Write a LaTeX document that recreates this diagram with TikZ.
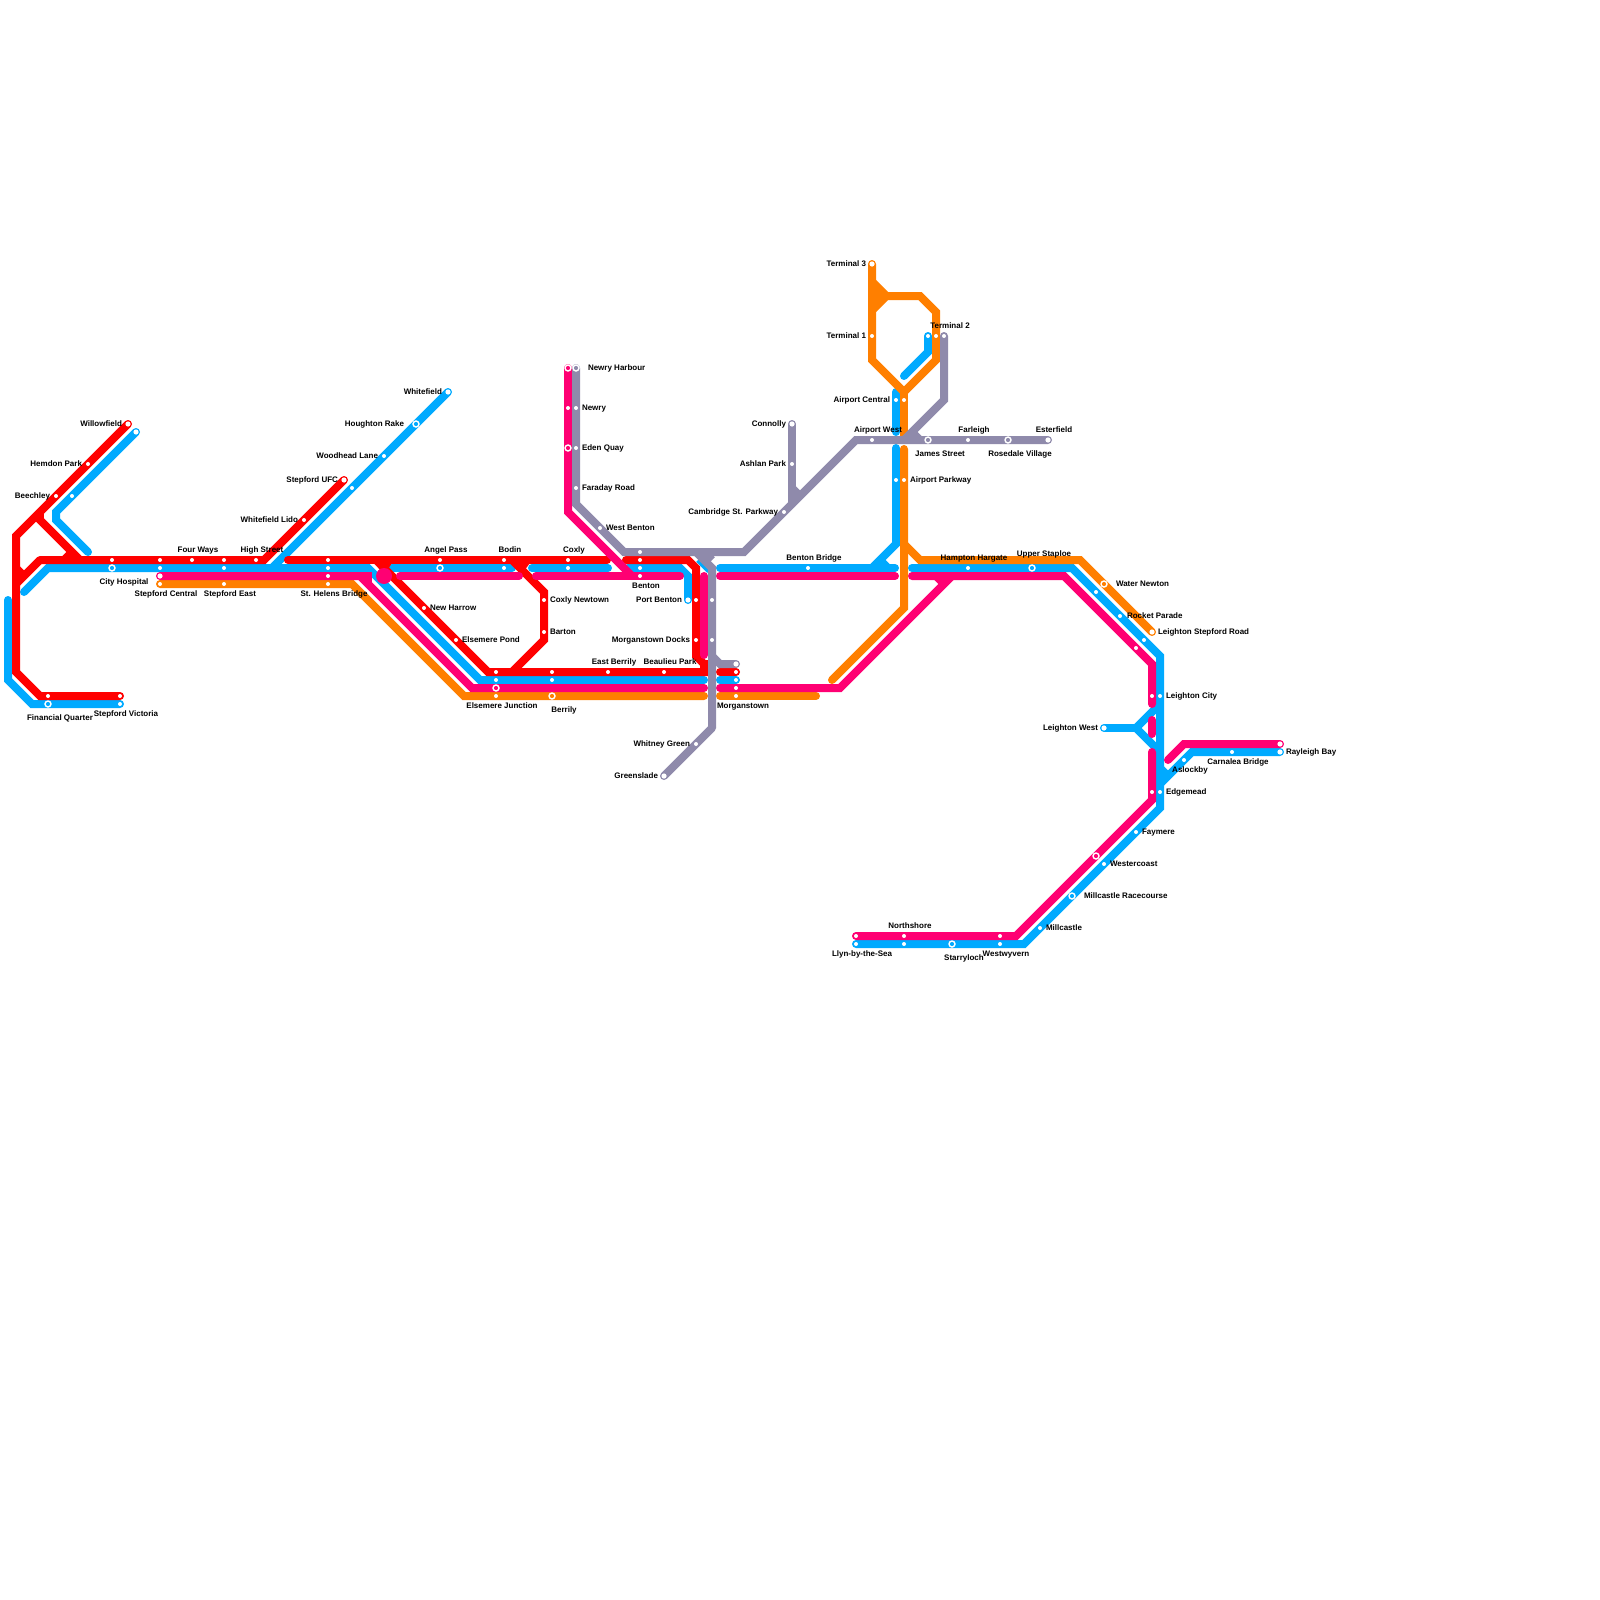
\documentclass[tikz,border=0pt]{standalone}
\usepackage{fontspec}
\setmainfont{Liberation Sans}
\definecolor{lred}{HTML}{FF0000}
\definecolor{lblue}{HTML}{00AAFF}
\definecolor{lmag}{HTML}{FF0073}
\definecolor{lorange}{HTML}{FF7F00}
\definecolor{lgrey}{HTML}{8F8AAB}
\tikzset{
  ln/.style={line width=8pt,line cap=round,line join=miter,miter limit=10},
  stub/.style={line width=8pt,line cap=butt},
  lab/.style={inner sep=0pt,outer sep=0pt,text=black,yshift=-1pt,font=\fontsize{8}{8}\selectfont\bfseries,text height=6pt,text depth=1.7pt},
  dotst/.style={fill=white},
  ringst/.style={draw=white,line width=1.4pt},
}
\newcount\lcnt
\newcommand{\lbl}[4]{\global\advance\lcnt by 1 \node[lab,anchor=#1] (L\the\lcnt) at (#2,#3) {#4};}
\begin{document}
\begin{tikzpicture}[x=1pt,y=-1pt]
\useasboundingbox (0,0) rectangle (1600,1600);
% ---------- orange lower
\draw[ln,lorange] (160,584)--(352,584)--(464,696)--(704,696);
\draw[ln,lorange] (720,696)--(816,696);
% ---------- blue
\draw[ln,lblue] (120,704)--(32,704)--(8,680)--(8,600);
\draw[ln,lblue] (136,432)--(56,512)--(56,520)--(88,552);
\draw[ln,lblue] (24,592)--(48,568)--(368,568)--(480,680)--(704,680);
\draw[ln,lblue] (448,392)--(272,568);
\draw[ln,lblue] (392,568)--(512,568);
\draw[ln,lblue] (532,568)--(608,568);
\draw[ln,lblue] (628,568)--(680,568)--(688,576)--(688,600);
\draw[stub,lblue] (699,559)--(710,570);
\draw[ln,lblue] (720,568)--(895,568);
\draw[ln,lblue] (896,448)--(896,544)--(872,568);
\draw[stub,lblue] (880,560)--(888,568);
\draw[ln,lblue] (896,392)--(896,432);
\draw[ln,lblue] (928,336)--(928,352)--(904,376);
\draw[ln,lblue] (912,568)--(1072,568)--(1160,656)--(1160,808)--(1024,944)--(856,944);
\draw[ln,lblue] (720,680)--(736,680);
\draw[ln,lblue] (1104,728)--(1136,728);
\draw[stub,lblue] (1160,704)--(1136,728)--(1160,752);
\draw[ln,lblue] (1160,784)--(1192,752)--(1280,752);
\draw[stub,lblue] (1160,768)--(1168,776);
% ---------- red
\draw[ln,lred] (128,424)--(16,536)--(16,672)--(40,696)--(120,696);
\draw[stub,lred] (36,516)--(80,560);
\draw[stub,lred] (40,512)--(40,520);
\draw[stub,lred] (64,560)--(72,552);
\draw[stub,lred] (16,568)--(24,576);
\draw[stub,lred] (16,584)--(40,560);
\draw[ln,lred] (40,560)--(264,560)--(344,480);
\draw[ln,lred] (288,560)--(607,560);
\draw[ln,lred] (626,560)--(688,560)--(696,568)--(696,656)--(704,664)--(704,672)--(488,672)--(376,560);
\fill[lred] (700,660) rectangle (708,668);
\fill[lred] (372,560)--(394,560)--(384,575)--cycle;
\draw[ln,lred,line cap=butt] (512,560)--(544,592)--(544,640)--(512,672);
\fill[lred] (512,558)--(530,563)--(524,571)--cycle;
\fill[lred] (505,672)--(520,672)--(518,664)--cycle;
\draw[ln,lred] (720,672)--(736,672);
% ---------- magenta
\draw[ln,lmag] (160,576)--(360,576)--(472,688)--(704,688);
\fill[lmag] (360,572)--(372,572)--(372,582)--(360,582)--cycle;
\draw[ln,lmag] (400,576)--(519,576);
\draw[ln,lmag] (536,576)--(680,576);
\draw[ln,lmag] (568,368)--(568,512)--(632,576);
\draw[ln,lmag] (704,576)--(704,655);
\draw[ln,lmag] (720,576)--(895,576);
\draw[ln,lmag] (912,576)--(1064,576)--(1152,664)--(1152,704);
\draw[ln,lmag] (1152,720)--(1152,734);
\draw[ln,lmag] (1152,752)--(1152,800)--(1016,936)--(856,936);
\draw[ln,lmag] (720,688)--(840,688)--(952,576);
\draw[stub,lmag] (936,576)--(944,584);
\draw[ln,lmag] (1280,744)--(1184,744)--(1168,760);
\fill[lmag] (384,576) circle[radius=8pt];
% ---------- orange upper
\draw[ln,lorange] (832,680)--(904,608)--(904,449);
\draw[ln,lorange] (904,544)--(920,560)--(1080,560)--(1152,632);
\draw[ln,lorange] (872,264)--(872,360)--(904,392)--(936,360)--(936,312)--(920,296)--(888,296);
\draw[ln,lorange,line cap=butt] (904,392)--(904,436);
\fill[lorange] (872,276)--(892,296)--(872,316)--cycle;
% ---------- grey
\draw[ln,lgrey] (576,368)--(576,504)--(624,552)--(744,552)--(856,440)--(1048,440);
\draw[ln,lgrey,line cap=butt] (696,552)--(712,568)--(712,728);
\draw[ln,lgrey] (712,728)--(664,776);
\draw[stub,lgrey] (704,552)--(712,560);
\draw[ln,lgrey] (792,424)--(792,504);
\draw[stub,lgrey] (792,488)--(800,496);
\draw[ln,lgrey] (944,336)--(944,400)--(904,440);
\draw[stub,lgrey] (912,432)--(920,440);
\draw[ln,lgrey] (712,656)--(720,664)--(736,664);
% ---------- plain stations
\foreach \p in {
 (88,464),(56,496),(48,696),(120,696),(112,560),(160,560),(192,560),(224,560),(256,560),(304,520),(328,560),(440,560),(504,560),(568,560),(640,560),
 (424,608),(456,640),(544,600),(544,632),(496,672),(552,672),(608,672),(664,672),(696,600),(696,640),(736,672),
 (72,496),(160,568),(224,568),(328,568),(352,488),(384,456),(504,568),(568,568),(640,568),(688,600),(496,680),(552,680),(736,680),(120,704),
 (328,576),(640,576),(568,408),(736,688),
 (160,584),(224,584),(328,584),(496,696),(736,696),
 (576,408),(576,448),(576,488),(600,528),(640,552),(712,600),(712,640),(696,744),(792,464),(784,512),
 (872,440),(968,440),(808,568),(968,568),(1096,592),(1120,616),(1144,640),(1136,648),
 (872,336),(928,336),(936,336),(944,336),(896,400),(904,400),(896,480),(904,480),
 (1152,696),(1160,696),(1152,792),(1160,792),(1232,752),(1184,760),
 (1136,832),(1104,864),(1040,928),(904,936),(904,944),(1000,936),(1000,944),(856,936),(856,944)}
 \fill[dotst] \p circle[radius=2pt];
% ---------- termini
\foreach \p in {(128,424),(136,432),(344,480),(448,392),(160,576),(688,600),(736,664),(664,776),(792,424),(872,264),(1048,440),(1152,632),(1104,728),(1280,744),(1280,752)}
 \fill[white] \p circle[radius=2.6pt];
% ---------- interchanges
\foreach \p in {(48,704),(112,568),(416,424),(440,568),(1032,568),(1072,896),(952,944)}
 \draw[ringst,fill=lblue] \p circle[radius=3pt];
\foreach \p in {(496,688),(568,448),(568,368),(1096,856)}
 \draw[ringst,fill=lmag] \p circle[radius=3pt];
\foreach \p in {(552,696),(1104,584)}
 \draw[ringst,fill=lorange] \p circle[radius=3pt];
\foreach \p in {(576,368),(928,440),(1008,440)}
 \draw[ringst,fill=lgrey] \p circle[radius=3pt];
% ---------- labels
\lbl{east}{122}{423}{Willowfield}
\lbl{east}{82}{463}{Hemdon Park}
\lbl{east}{50}{495}{Beechley}
\lbl{east}{298}{519}{Whitefield Lido}
\lbl{east}{338}{479}{Stepford UFC}
\lbl{east}{378}{455}{Woodhead Lane}
\lbl{east}{404}{423}{Houghton Rake}
\lbl{east}{442}{391}{Whitefield}
\lbl{center}{198}{549}{Four Ways}
\lbl{center}{262}{549}{High Street}
\lbl{center}{124}{581}{City Hospital}
\lbl{center}{166}{593}{Stepford Central}
\lbl{center}{230}{593}{Stepford East}
\lbl{center}{334}{593}{St. Helens Bridge}
\lbl{center}{60}{717}{Financial Quarter}
\lbl{center}{126}{713}{Stepford Victoria}
\lbl{center}{446}{549}{Angel Pass}
\lbl{center}{510}{549}{Bodin}
\lbl{center}{574}{549}{Coxly}
\lbl{west}{430}{607}{New Harrow}
\lbl{west}{462}{639}{Elsemere Pond}
\lbl{west}{550}{599}{Coxly Newtown}
\lbl{west}{550}{631}{Barton}
\lbl{center}{646}{585}{Benton}
\lbl{east}{682}{599}{Port Benton}
\lbl{east}{690}{639}{Morganstown Docks}
\lbl{center}{614}{661}{East Berrily}
\lbl{center}{670}{661}{Beaulieu Park}
\lbl{center}{502}{705}{Elsemere Junction}
\lbl{center}{564}{709}{Berrily}
\lbl{west}{717}{705}{Morganstown}
\lbl{east}{690}{743}{Whitney Green}
\lbl{east}{658}{775}{Greenslade}
\lbl{center}{814}{557}{Benton Bridge}
\lbl{west}{588}{367}{Newry Harbour}
\lbl{west}{582}{407}{Newry}
\lbl{west}{582}{447}{Eden Quay}
\lbl{west}{582}{487}{Faraday Road}
\lbl{west}{606}{527}{West Benton}
\lbl{east}{786}{423}{Connolly}
\lbl{east}{786}{463}{Ashlan Park}
\lbl{east}{778}{511}{Cambridge St. Parkway}
\lbl{east}{866}{263}{Terminal 3}
\lbl{east}{866}{335}{Terminal 1}
\lbl{center}{950}{325}{Terminal 2}
\lbl{east}{890}{399}{Airport Central}
\lbl{center}{878}{429}{Airport West}
\lbl{center}{974}{429}{Farleigh}
\lbl{center}{1054}{429}{Esterfield}
\lbl{center}{940}{453}{James Street}
\lbl{center}{1020}{453}{Rosedale Village}
\lbl{west}{910}{479}{Airport Parkway}
\lbl{center}{974}{557}{Hampton Hargate}
\lbl{center}{1044}{553}{Upper Staploe}
\lbl{west}{1116}{583}{Water Newton}
\lbl{west}{1127}{615}{Rocket Parade}
\lbl{west}{1158}{631}{Leighton Stepford Road}
\lbl{west}{1166}{695}{Leighton City}
\lbl{east}{1098}{727}{Leighton West}
\lbl{west}{1286}{751}{Rayleigh Bay}
\lbl{center}{1238}{761}{Carnalea Bridge}
\lbl{center}{1190}{769}{Aslockby}
\lbl{west}{1166}{791}{Edgemead}
\lbl{west}{1142}{831}{Faymere}
\lbl{west}{1110}{863}{Westercoast}
\lbl{west}{1084}{895}{Millcastle Racecourse}
\lbl{west}{1046}{927}{Millcastle}
\lbl{center}{910}{925}{Northshore}
\lbl{east}{892}{953}{Llyn-by-the-Sea}
\lbl{center}{964}{957}{Starryloch}
\lbl{center}{1006}{953}{Westwyvern}
\end{tikzpicture}
\end{document}
